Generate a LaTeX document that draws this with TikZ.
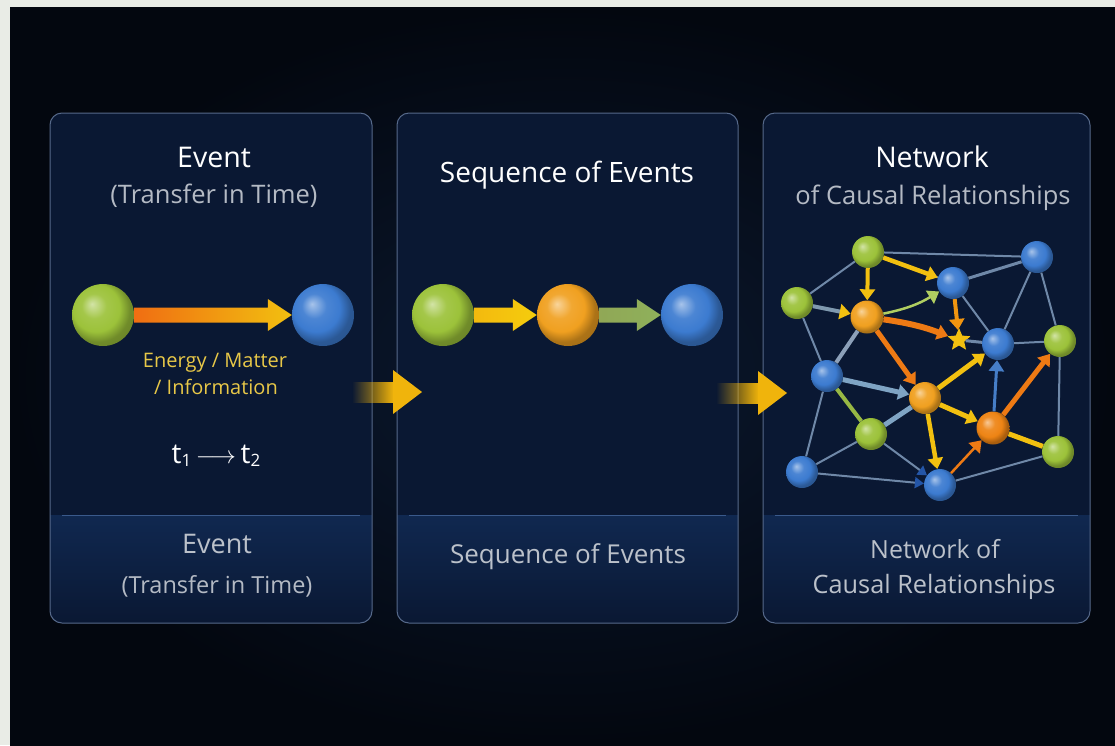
\documentclass[tikz,border=0pt]{standalone}
\usepackage{fontspec}
\setmainfont{Open Sans}
\usetikzlibrary{arrows.meta,calc,shapes.geometric,fadings}

\definecolor{strip}{HTML}{E9ECE6}
\definecolor{bgdark}{HTML}{03070F}
\definecolor{bgmid}{HTML}{0B1930}
\definecolor{panelfill}{HTML}{0A1833}
\definecolor{panelline}{HTML}{56698A}
\definecolor{bandtop}{HTML}{102850}
\definecolor{sepline}{HTML}{3A5A8C}
\definecolor{ballgreen}{HTML}{9CC23A}
\definecolor{ballblue}{HTML}{3C7BD0}
\definecolor{ballorange}{HTML}{F0A020}
\definecolor{deeporange}{HTML}{EE8414}
\definecolor{arrowyellow}{HTML}{F2C010}
\definecolor{hopyellow}{HTML}{F0B40C}
\definecolor{arroworange}{HTML}{EE7A14}
\definecolor{linkgray}{HTML}{6F88A8}
\definecolor{linkblue}{HTML}{7FA4C4}
\definecolor{headblue}{HTML}{2456A8}
\definecolor{labelyellow}{HTML}{E8C848}
\definecolor{subgray}{HTML}{B4BAC4}

% sphere shading, colour taken from sphc
\colorlet{sphc}{white}
\pgfdeclareradialshading[sphc]{sphere}{\pgfpoint{-9bp}{9bp}}{%
  color(0bp)=(sphc!45!white); color(10bp)=(sphc!92!white);
  color(19bp)=(sphc); color(26bp)=(sphc!72!black); color(50bp)=(sphc!55!black)}

\tikzfading[name=fadein, left color=transparent!100, right color=transparent!0]

% fat arrow: options, start, tip, half shaft, half head, head length
\newcommand{\fatarrow}[6]{%
  \shade[#1] ($(#2)+(0,#4)$) -- ($(#3)+(-#6,#4)$) -- ($(#3)+(-#6,#5)$) -- (#3)
    -- ($(#3)+(-#6,-#5)$) -- ($(#3)+(-#6,-#4)$) -- ($(#2)+(0,-#4)$) -- cycle;}

\tikzset{
  ball/.style={circle, inner sep=0pt, minimum size=#1, shading=sphere},
  green/.style={/utils/exec={\colorlet{sphc}{ballgreen}}},
  blue/.style={/utils/exec={\colorlet{sphc}{ballblue}}},
  orange/.style={/utils/exec={\colorlet{sphc}{ballorange}}},
  deep/.style={/utils/exec={\colorlet{sphc}{deeporange}}},
  title/.style={text=white, anchor=base, font=\fontsize{28.5}{32}\selectfont},
  subtitle/.style={text=subgray, anchor=base, font=\fontsize{25.5}{29}\selectfont},
  botlab/.style={text=subgray!90!white, anchor=base, font=\fontsize{26}{30}\selectfont},
  link/.style={draw=linkgray, line width=2pt},
  flow/.style={line width=#1, -{Triangle[length=11pt,width=15pt]}},
}

\begin{document}
\begin{tikzpicture}[x=1pt, y=-1pt]
\useasboundingbox (0,0) rectangle (1115,745);
% background
\fill[strip] (0,0) rectangle (1115,745);
\shade[inner color=bgmid, outer color=bgdark] (10,7) rectangle (1115,745);

% panels
\foreach \xa/\xb in {50/372, 397/738, 763/1090}{
  \fill[panelfill, rounded corners=12pt] (\xa,113) rectangle (\xb,623);
  \begin{scope}
    \clip[rounded corners=12pt] (\xa,113) rectangle (\xb,623);
    \shade[top color=bandtop, bottom color=panelfill] (\xa,515) rectangle (\xb,623);
  \end{scope}
  \draw[sepline, line width=1pt] (\xa+12,515) -- (\xb-12,515);
  \draw[panelline, line width=1pt, rounded corners=12pt] (\xa,113) rectangle (\xb,623);
}

% arrows between panels
\coordinate (hop1s) at (352,392);
\coordinate (hop1h) at (393,392);
\coordinate (hop1) at (422,392);
\coordinate (hop2s) at (716,393);
\coordinate (hop2h) at (758,393);
\coordinate (hop2) at (787,393);
\fill[hopyellow, path fading=fadein] ($(hop1s)+(0,-10.5)$) rectangle ($(hop1h)+(0.5,10.5)$);
\fill[hopyellow] (hop1) -- ($(hop1h)+(0,-22)$) -- ($(hop1h)+(0,22)$) -- cycle;
\fill[hopyellow, path fading=fadein] ($(hop2s)+(0,-10.5)$) rectangle ($(hop2h)+(0.5,10.5)$);
\fill[hopyellow] (hop2) -- ($(hop2h)+(0,-22)$) -- ($(hop2h)+(0,22)$) -- cycle;

% panel 1: event
\node[title] (evtitle) at (214,167) {Event};
\node[subtitle] (evsub) at (214,203) {(Transfer in Time)};
\node[ball=62pt, green] (ga) at (103,315) {};
\node[ball=62pt, blue] (ba) at (323,315) {};
\fatarrow{left color=arroworange!90!red, right color=arrowyellow}{ga.east}{ba.west}{7.5}{16}{24}
\node[anchor=base, text=labelyellow, font=\fontsize{20}{24}\selectfont] (flowlab1) at (215,367) {Energy / Matter};
\node[anchor=base, text=labelyellow, font=\fontsize{20}{24}\selectfont] (flowlab2) at (216,394) {/ Information};
\node[anchor=base, text=white, font=\fontsize{28}{30}\selectfont] (timelab) at (216,463)
  {t\raisebox{-3pt}{\fontsize{17}{17}\selectfont 1}\,$\longrightarrow$\,t\raisebox{-3pt}{\fontsize{17}{17}\selectfont 2}};
\node[botlab, font=\fontsize{27}{30}\selectfont] (evbot) at (217,553) {Event};
\node[subtitle, font=\fontsize{23.5}{27}\selectfont] (evbotsub) at (217,593) {(Transfer in Time)};

% panel 2: sequence
\node[title, font=\fontsize{28}{32}\selectfont] (seqtitle) at (567,182) {Sequence of Events};
\node[ball=62pt, green] (gs) at (443,315) {};
\node[ball=62pt, orange] (os) at (568,315) {};
\node[ball=62pt, blue] (bs) at (692,315) {};
\fatarrow{left color=arrowyellow!90!orange, right color=arrowyellow!80!yellow}{gs.east}{os.west}{7.5}{16}{24}
\fatarrow{left color=ballgreen!60!gray, right color=ballgreen!70!linkgray}{os.east}{bs.west}{7.5}{16}{24}
\node[botlab] (seqbot) at (568,563) {Sequence of Events};

% panel 3: network
\node[title] (nettitle) at (932,167) {Network};
\node[subtitle] (netsub) at (933,204) {of Causal Relationships};
\node[botlab, font=\fontsize{25}{30}\selectfont] (netbot1) at (935,558) {Network of};
\node[botlab, font=\fontsize{25.3}{30}\selectfont] (netbot2) at (934,593) {Causal Relationships};

\node[ball=32pt, green] (g1) at (868,252) {};
\node[ball=32pt, blue] (b1) at (953,283) {};
\node[ball=32pt, blue] (b2) at (1037,257) {};
\node[ball=32pt, green] (g2) at (797,303) {};
\node[ball=33pt, orange] (o1) at (867,317) {};
\node[star, star points=5, star point ratio=2.2, fill=arrowyellow, inner sep=0pt, minimum size=24pt] (s) at (959,340) {};
\node[ball=32pt, blue] (b3) at (998,344) {};
\node[ball=32pt, green] (g3) at (1060,341) {};
\node[ball=32pt, blue] (b4) at (827,376) {};
\node[ball=32pt, orange] (o2) at (925,398) {};
\node[ball=32pt, green] (g4) at (871,434) {};
\node[ball=33pt, deep] (o3) at (993,428) {};
\node[ball=32pt, green] (g5) at (1058,452) {};
\node[ball=32pt, blue] (b5) at (802,472) {};
\node[ball=32pt, blue] (b6) at (940,485) {};

% plain links
\draw[link] (g1) -- (g2);
\draw[link] (g1) -- (b2);
\draw[link] (g1) -- (b1);
\draw[link, line width=3pt] (b1) -- (b2);
\draw[link] (b1) -- (b3);
\draw[link] (b2) -- (b3);
\draw[link] (b2) -- (g3);
\draw[link] (b3) -- (g3);
\draw[link, line width=3pt] (b3) -- (s);
\draw[link] (g2) -- (b4);
\draw[link, line width=4pt, draw=linkgray!80!white] (o1) -- (b4);
\draw[link, line width=4pt, draw=ballgreen!85!gray] (b4) -- (g4);
\draw[link] (b4) -- (b5);
\draw[link, line width=5pt, draw=linkblue] (g4) -- (o2);
\draw[link] (g4) -- (b5);
\draw[link] (g3) -- (g5);
\draw[link] (g5) -- (b6);
\draw[link, line width=5pt, draw=arrowyellow] (o3) -- (g5);
\draw[link, -{Triangle[length=9pt,width=11pt,fill=headblue,color=headblue]}] (g4) -- (b6);
\draw[link, -{Triangle[length=9pt,width=11pt,fill=headblue,color=headblue]}] (b5) -- (b6);

% causal arrows
\draw[flow=4pt, arrowyellow] (g1) -- (o1);
\draw[flow=4.5pt, arrowyellow] (g1) -- (b1);
\draw[flow=4pt, draw=linkblue!70!gray, -{Triangle[length=11pt,width=15pt,fill=arrowyellow,color=arrowyellow]}] (g2) -- (o1);
\draw[flow=2.5pt, ballgreen!80!white] (o1) to[bend right=10] (b1);
\draw[flow=4pt, arroworange!80!yellow] (b1) -- (s);
\draw[flow=6pt, arroworange] (o1) to[bend left=6] (s);
\draw[flow=5pt, arroworange] (o1) -- (o2);
\draw[flow=5pt, arrowyellow] (o2) -- (b3);
\draw[flow=5pt, arrowyellow] (o2) -- (o3);
\draw[flow=4.5pt, arrowyellow] (o2) -- (b6);
\draw[flow=2.5pt, arroworange] (b6) -- (o3);
\draw[flow=5pt, arroworange] (o3) -- (g3);
\draw[flow=5pt, linkblue] (b4) -- (o2);
\draw[flow=3pt, ballblue!80!linkgray] (o3) -- (b3);
\end{tikzpicture}
\end{document}
